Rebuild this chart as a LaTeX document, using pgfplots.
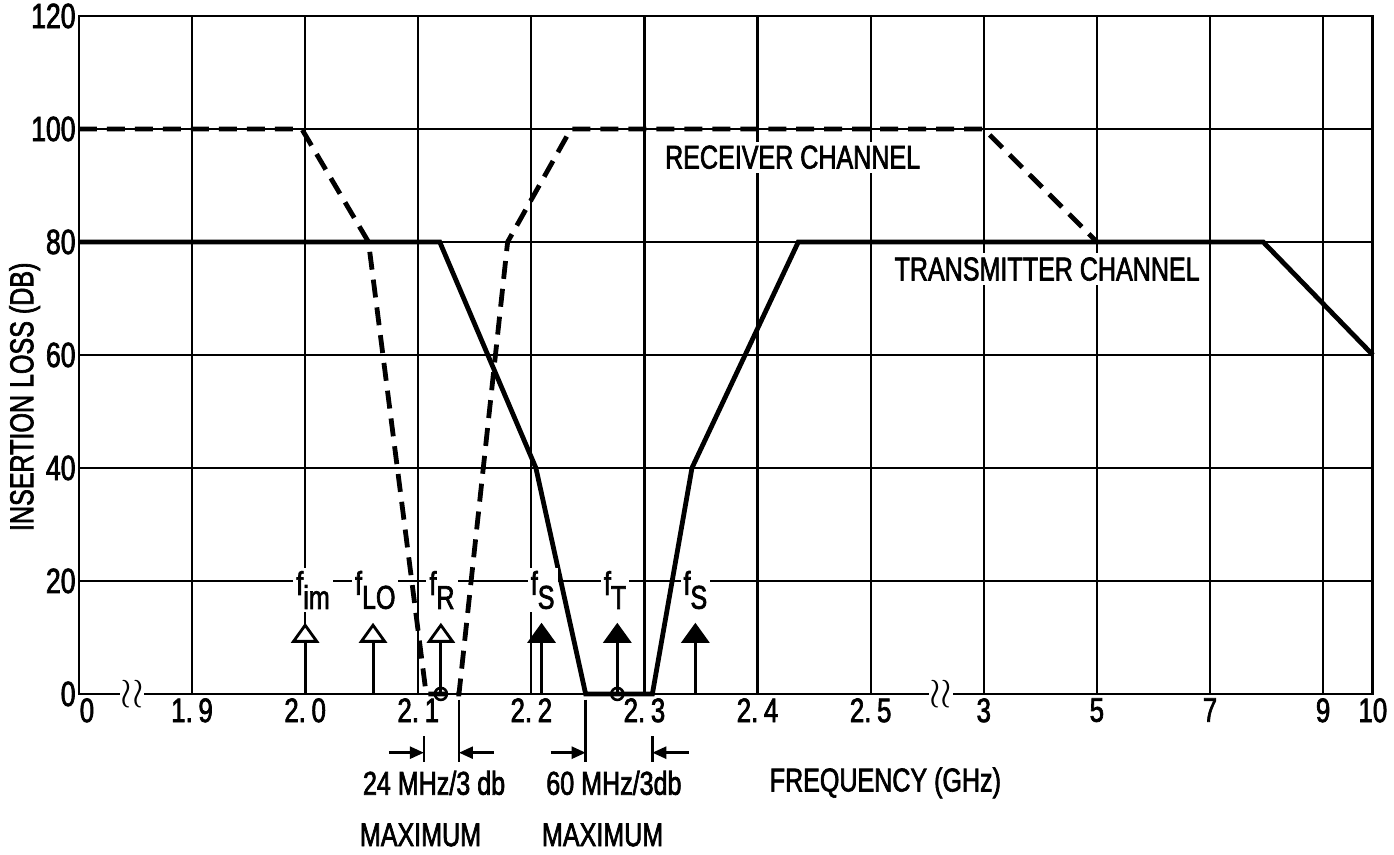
\documentclass[border=0pt]{standalone}
\usepackage{fontspec}
\setmainfont{Liberation Sans}
\newfontfamily\cond{Liberation Sans}[FakeStretch=0.76, FakeBold=2]
\usepackage{pgfplots}
\pgfplotsset{compat=1.18}
\usetikzlibrary{arrows.meta}
\newcommand{\lbl}{\cond\fontsize{16.5}{18}\selectfont}
\newcommand{\fl}[1]{\cond\fontsize{16.5}{16.5}\selectfont f\raisebox{-7pt}{#1}}
\begin{document}
\begin{tikzpicture}
\begin{axis}[
 scale only axis, width=647pt, height=339pt,
 xmin=0, xmax=11.44, ymin=0, ymax=120,
 clip=false,
 axis line style={line width=1.4pt},
 grid=major, grid style={line width=1.1pt, black},
 major tick length=0pt,
 xtick={0,1,2,3,4,5,6,7,8,9,10,11,11.44},
 xticklabels={\hspace*{8pt}0, 1.\,9, 2.\,0, 2.\,1, 2.\,2, 2.\,3, 2.\,4, 2.\,5, 3, 5, 7, 9, 10},
 ytick={0,20,40,60,80,100,120},
 yticklabels={0,20,40,60,80,100,120},
 xticklabel style={font=\cond\fontsize{17}{17}\selectfont, inner sep=2pt},
 yticklabel style={font=\cond\fontsize{17.5}{17.5}\selectfont, inner sep=1.5pt},
]
% receiver channel (dashed)
\addplot[line width=2.4pt, black, dash pattern=on 9pt off 5pt] coordinates {
 (0,100) (1.97,100) (2.56,80) (3.07,0) (3.36,0) (3.79,80) (4.35,100) (8,100) (9,80)};
% transmitter channel (solid)
\addplot[line width=2.4pt, black] coordinates {
 (0,80) (3.19,80) (4.04,40) (4.48,0) (5.07,0) (5.42,40) (6.36,80) (10.47,80) (11.44,60)};
% signal arrows
\draw[line width=1.5pt, -{Triangle[open, fill=white, length=10pt, width=14pt, line width=1.4pt]}] (axis cs:2.0,0) -- (axis cs:2.0,12.6);
\draw[line width=1.5pt, -{Triangle[open, fill=white, length=10pt, width=14pt, line width=1.4pt]}] (axis cs:2.6,0) -- (axis cs:2.6,12.6);
\draw[line width=1.5pt, -{Triangle[open, fill=white, length=10pt, width=14pt, line width=1.4pt]}] (axis cs:3.2,0) -- (axis cs:3.2,12.6);
\draw[line width=1.5pt, -{Triangle[length=10pt, width=14pt]}] (axis cs:4.09,0) -- (axis cs:4.09,12.6);
\draw[line width=1.5pt, -{Triangle[length=10pt, width=14pt]}] (axis cs:4.76,0) -- (axis cs:4.76,12.6);
\draw[line width=1.5pt, -{Triangle[length=10pt, width=14pt]}] (axis cs:5.45,0) -- (axis cs:5.45,12.6);
\addplot[only marks, mark=o, mark size=3pt, mark options={line width=1.3pt, fill=white}] coordinates {(3.2,0) (4.76,0)};
% labels
\node[fill=white, inner sep=1.5pt] at (axis cs:2.07,18.4) {\fl{im}};
\node[fill=white, inner sep=1.5pt] at (axis cs:2.62,18.4) {\fl{LO}};
\node[fill=white, inner sep=1.5pt] at (axis cs:3.21,18.4) {\fl{R}};
\node[fill=white, inner sep=1.5pt] at (axis cs:4.1,18.4) {\fl{S}};
\node[fill=white, inner sep=1.5pt] at (axis cs:4.74,18.4) {\fl{T}};
\node[fill=white, inner sep=1.5pt] at (axis cs:5.45,18.4) {\fl{S}};
\node[fill=white, inner sep=2pt] at (axis cs:6.31,95) {\lbl RECEIVER CHANNEL};
\node[fill=white, inner sep=2pt] at (axis cs:8.56,75.2) {\lbl TRANSMITTER CHANNEL};
% axis breaks
\node[fill=white, inner sep=0.3pt] at (axis cs:0.47,0) {\fontsize{20}{20}\selectfont$\wr\wr$};
\node[fill=white, inner sep=0.3pt] at (axis cs:7.62,0) {\fontsize{20}{20}\selectfont$\wr\wr$};
% bandwidth annotations
\draw[line width=1.3pt] (axis cs:3.05,-7.5) -- (axis cs:3.05,-12);
\draw[line width=1.3pt] (axis cs:3.36,-1) -- (axis cs:3.36,-12);
\draw[line width=1.3pt, -{Triangle[length=7pt, width=6pt]}] (axis cs:2.74,-10.4) -- (axis cs:3.05,-10.4);
\draw[line width=1.3pt, -{Triangle[length=7pt, width=6pt]}] (axis cs:3.67,-10.4) -- (axis cs:3.36,-10.4);
\draw[line width=1.3pt] (axis cs:4.48,-1) -- (axis cs:4.48,-12);
\draw[line width=1.3pt] (axis cs:5.07,-7.5) -- (axis cs:5.07,-12);
\draw[line width=1.3pt, -{Triangle[length=7pt, width=6pt]}] (axis cs:4.17,-10.4) -- (axis cs:4.48,-10.4);
\draw[line width=1.3pt, -{Triangle[length=7pt, width=6pt]}] (axis cs:5.39,-10.4) -- (axis cs:5.07,-10.4);
\node at (axis cs:3.14,-15.75) {\lbl 24 MHz/3 db};
\node at (axis cs:3.02,-24.96) {\lbl MAXIMUM};
\node at (axis cs:4.73,-15.75) {\lbl 60 MHz/3db};
\node at (axis cs:4.63,-24.96) {\lbl MAXIMUM};
\node at (axis cs:7.13,-15.75) {\lbl FREQUENCY (GHz)};
\node[rotate=90] at (axis cs:-0.48,52.6) {\lbl INSERTION LOSS (DB)};
% bounding box
\path (axis cs:-0.698,-28.5) rectangle (axis cs:11.627,122.83);
\end{axis}
\end{tikzpicture}
\end{document}
